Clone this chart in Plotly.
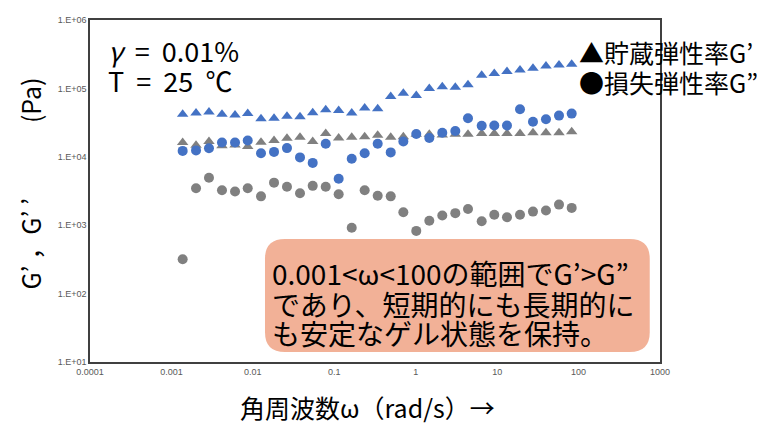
import plotly.graph_objects as go

# angular frequency (rad/s)
omega = [0.001374, 0.002005, 0.002891, 0.004178, 0.006039, 0.00865, 0.01259, 0.01820,
         0.02624, 0.03793, 0.05433, 0.07852, 0.1132, 0.1637, 0.2362, 0.3412, 0.4932,
         0.7047, 1.016, 1.469, 2.120, 3.063, 4.385, 6.460, 9.226, 13.21, 19.09, 27.55,
         39.78, 57.49, 82.32]

# blue sample
blue_storage = [41800, 43800, 45300, 41800, 41000, 42800, 35900, 36600, 39100, 38400,
                44200, 48900, 47700, 43800, 51700, 50500, 75900, 85000, 78500, 100000,
                106000, 104000, 113000, 156000, 165000, 176000, 186000, 197000, 212000,
                219000, 225000]
blue_loss = [12200, 12400, 13300, 16200, 16200, 17300, 11300, 11800, 13400, 9800,
             8150, 15500, 4790, 9390, 11300, 15500, 11600, 16700, 21500, 18800,
             22500, 23800, 36600, 28400, 28700, 28700, 49700, 32500, 35400, 40000, 42800]

# gray sample
gray_storage = [16200, 14800, 16700, 14500, 14900, 14200, 16300, 17300, 18700, 19300,
                16700, 22000, 18800, 19300, 19700, 20600, 19300, 19700, 21300, 21300,
                20800, 21300, 21300, 22000, 22000, 22000, 22000, 22400, 22400, 22400, 23300]
gray_loss = [318, 3470, 4950, 3250, 3110, 3470, 2640, 4190, 3640, 2940, 3760, 3640,
             2840, 920, 3250, 2700, 2640, 1550, 825, 1160, 1390, 1500, 1730, 1140,
             1420, 1310, 1420, 1580, 1640, 2000, 1790]

x_tickvals = [1e-4, 1e-3, 1e-2, 1e-1, 1, 10, 100, 1000]
x_ticktext = ["0.0001", "0.001", "0.01", "0.1", "1", "10", "100", "1000"]
y_tickvals = [1e1, 1e2, 1e3, 1e4, 1e5, 1e6]
y_ticktext = ["1.E+01", "1.E+02", "1.E+03", "1.E+04", "1.E+05", "1.E+06"]

BLUE = "#4472C4"
GRAY = "#808080"
JP = "Noto Sans CJK JP"
NB = "\u00a0"

fig = go.Figure()
fig.add_trace(go.Scatter(x=omega, y=blue_storage, mode="markers",
                         marker=dict(symbol="triangle-up", size=10, color=BLUE)))
fig.add_trace(go.Scatter(x=omega, y=gray_storage, mode="markers",
                         marker=dict(symbol="triangle-up", size=10, color=GRAY)))
fig.add_trace(go.Scatter(x=omega, y=gray_loss, mode="markers",
                         marker=dict(symbol="circle", size=10, color=GRAY)))
fig.add_trace(go.Scatter(x=omega, y=blue_loss, mode="markers",
                         marker=dict(symbol="circle", size=10, color=BLUE)))

# rounded annotation box (paper coords)
x0, x1, y0, y1 = 0.307, 0.982, 0.029, 0.360
rx, ry = 0.035, 0.058
path = (f"M {x0+rx},{y0} L {x1-rx},{y0} Q {x1},{y0} {x1},{y0+ry} "
        f"L {x1},{y1-ry} Q {x1},{y1} {x1-rx},{y1} L {x0+rx},{y1} "
        f"Q {x0},{y1} {x0},{y1-ry} L {x0},{y0+ry} Q {x0},{y0} {x0+rx},{y0} Z")
fig.add_shape(type="path", path=path, xref="paper", yref="paper",
              fillcolor="#F2B197", line=dict(width=0), layer="above")

def px_x(p):
    return (p - 90) / 570

def px_y(p):
    return (362 - p) / 347

anns = []
anns.append(dict(text=f"<i>γ</i>{NB} ={NB} 0.01%", x=px_x(106), y=px_y(46), xanchor="left",
                 yanchor="middle", font=dict(size=27, family=JP, color="black")))
anns.append(dict(text=f"T{NB} ={NB} 25{NB} ℃", x=px_x(106), y=px_y(76), xanchor="left",
                 yanchor="middle", font=dict(size=27, family=JP, color="black")))
anns.append(dict(text="▲貯蔵弾性率G’", x=px_x(577), y=px_y(47), xanchor="left",
                 yanchor="middle", font=dict(size=25, family=JP, color="black")))
anns.append(dict(text="●損失弾性率G”", x=px_x(577), y=px_y(78), xanchor="left",
                 yanchor="middle", font=dict(size=25, family=JP, color="black")))
box_lines = ["0.001<ω<100の範囲でG’>G”", "であり、短期的にも長期的に", "も安定なゲル状態を保持。"]
for txt, yy in zip(box_lines, [272, 303, 333]):
    anns.append(dict(text=txt, x=px_x(270), y=px_y(yy), xanchor="left", yanchor="middle",
                     font=dict(size=28, family=JP, color="black")))
anns.append(dict(text="角周波数ω（rad/s）→", x=px_x(367), y=px_y(408), xanchor="center",
                 yanchor="middle", font=dict(size=25, family=JP, color="black")))
anns.append(dict(text=f"G’ ，G’ ’　　　(Pa)", x=px_x(30), y=px_y(181), xanchor="center",
                 yanchor="middle", textangle=-90, font=dict(size=25, family=JP, color="black")))
for a in anns:
    a.update(xref="paper", yref="paper", showarrow=False)

# page body has an 8px margin: figure is sized/offset to compensate
fig.update_layout(
    width=757, height=416,
    margin=dict(l=82, r=105, t=7, b=62),
    paper_bgcolor="white", plot_bgcolor="white",
    showlegend=False,
    annotations=anns,
    xaxis=dict(type="log", range=[-4, 3], tickvals=x_tickvals, ticktext=x_ticktext,
               showgrid=False, zeroline=False, showline=True, mirror=True,
               linecolor="#404040", linewidth=1.5, ticks="",
               tickfont=dict(family="Liberation Sans", size=9, color="#595959")),
    yaxis=dict(type="log", range=[1, 6], tickvals=y_tickvals, ticktext=y_ticktext,
               showgrid=False, zeroline=False, showline=True, mirror=True,
               linecolor="#404040", linewidth=1.5, ticks="",
               tickfont=dict(family="Liberation Sans", size=9, color="#595959")),
)

fig.write_html("out.html")
